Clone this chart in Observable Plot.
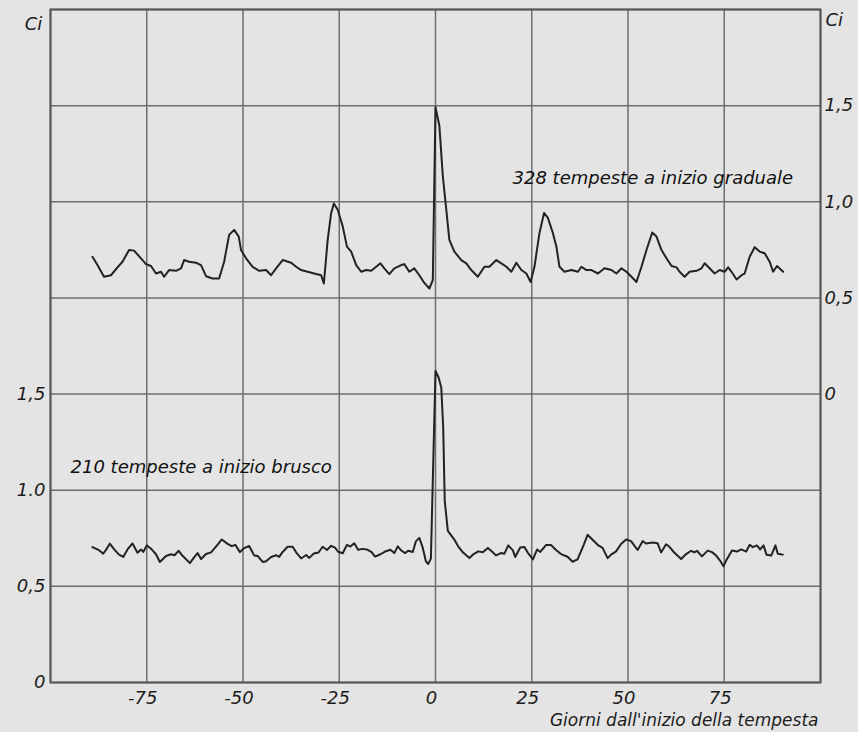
<!DOCTYPE html>
<html>
<head>
<meta charset="utf-8">
<script src="https://cdn.jsdelivr.net/npm/d3@7"></script>
<script src="https://cdn.jsdelivr.net/npm/@observablehq/plot@0.6"></script>
<style>
  html, body { margin: 0; padding: 0; background: #e4e4e4; }
  svg { display: block; }
</style>
</head>
<body>
<script>
// ---- Data ----
// Upper curve: 328 storms with gradual onset (right-hand axis, Ci)
const topDays = [-89.1,-87.8,-86.1,-84.3,-82.6,-81.3,-79.6,-78.3,-76.5,-75.2,-73.9,-72.6,-71.3,-70.5,-69.2,-67.4,-66.1,-65.3,-64.0,-62.2,-60.9,-59.6,-57.9,-56.2,-54.9,-53.6,-52.3,-51.1,-50.5,-49.2,-47.5,-45.8,-44.0,-42.7,-41.4,-39.7,-37.5,-36.2,-34.9,-33.2,-31.5,-29.7,-29.0,-28.0,-27.1,-26.4,-25.4,-24.1,-23.0,-21.9,-20.6,-19.3,-18.0,-16.7,-15.4,-14.3,-13.3,-12.0,-10.7,-8.9,-8.1,-6.8,-5.5,-4.2,-2.9,-1.6,-0.7,0,1.0,1.9,2.8,3.6,4.9,6.7,8.0,9.3,11.0,12.7,14.0,15.8,17.1,18.4,19.7,21.0,22.3,23.6,24.7,25.7,27.0,28.2,29.2,30.5,31.4,32.2,33.5,35.3,37.0,37.9,39.2,40.5,42.2,43.9,45.7,47.0,48.3,49.6,50.9,52.2,53.5,54.8,56.3,57.4,58.7,60.0,61.3,62.6,63.4,64.7,66.0,67.8,69.1,69.9,71.2,72.5,73.8,75.1,76.0,76.9,78.2,79.5,80.3,81.6,82.9,84.2,85.5,86.8,87.7,88.7,90.3];
const topValues = [0.714,0.671,0.610,0.618,0.659,0.688,0.749,0.746,0.706,0.676,0.666,0.627,0.636,0.610,0.645,0.641,0.654,0.697,0.688,0.683,0.671,0.613,0.601,0.601,0.688,0.828,0.854,0.819,0.749,0.706,0.662,0.641,0.645,0.618,0.654,0.697,0.683,0.662,0.645,0.636,0.627,0.618,0.575,0.802,0.942,0.991,0.959,0.872,0.767,0.741,0.671,0.636,0.645,0.641,0.662,0.680,0.654,0.624,0.654,0.671,0.676,0.636,0.654,0.618,0.578,0.549,0.592,1.492,1.396,1.134,0.959,0.802,0.741,0.697,0.680,0.645,0.610,0.662,0.662,0.697,0.680,0.662,0.636,0.683,0.645,0.627,0.583,0.662,0.837,0.942,0.916,0.837,0.767,0.662,0.636,0.645,0.636,0.662,0.645,0.645,0.627,0.654,0.645,0.627,0.654,0.636,0.610,0.583,0.662,0.749,0.840,0.819,0.749,0.706,0.666,0.659,0.636,0.610,0.636,0.641,0.654,0.680,0.654,0.627,0.645,0.636,0.659,0.636,0.596,0.618,0.627,0.714,0.764,0.741,0.732,0.688,0.636,0.666,0.636];

// Lower curve: 210 storms with sudden onset (left-hand axis, Ci)
const bottomDays = [-89.1,-87.4,-86.3,-85.4,-84.6,-83.4,-82.2,-81.1,-80.0,-78.7,-77.4,-76.5,-75.9,-75.0,-73.9,-72.6,-71.6,-70.0,-68.7,-67.8,-66.7,-65.7,-63.8,-62.7,-61.8,-60.9,-59.6,-58.3,-56.8,-55.5,-54.0,-52.9,-52.0,-50.8,-49.7,-48.4,-47.1,-46.2,-44.9,-44.0,-42.7,-41.4,-40.6,-39.7,-38.4,-37.1,-36.0,-34.9,-33.6,-32.8,-31.6,-30.4,-29.3,-28.2,-27.1,-26.1,-25.3,-24.1,-23.0,-22.1,-21.1,-20.1,-18.9,-17.6,-16.6,-15.7,-14.3,-13.1,-11.7,-10.7,-9.8,-8.8,-7.9,-7.1,-5.9,-5.1,-4.2,-3.3,-2.5,-1.9,-1.2,0,0.8,1.5,2.0,2.4,3.2,4.8,5.8,7.1,8.8,9.9,11.1,12.3,13.6,14.6,15.7,17.0,17.9,18.9,20.1,20.7,22.0,23.1,24.1,25.3,26.4,27.2,28.7,30.0,31.3,32.6,34.3,35.6,36.9,38.5,39.5,40.8,42.1,43.4,44.7,45.6,46.9,48.2,49.5,50.8,51.6,52.5,53.8,54.7,56.4,57.7,58.6,59.9,60.7,62.0,63.8,65.1,66.4,67.2,67.9,69.2,70.7,71.8,72.9,73.9,74.8,75.5,77.0,78.3,79.4,80.7,81.6,82.4,83.5,84.3,85.2,86.0,87.2,88.3,88.9,90.2];
const bottomValues = [0.704,0.688,0.670,0.695,0.722,0.691,0.665,0.653,0.692,0.723,0.675,0.692,0.679,0.713,0.696,0.667,0.627,0.658,0.667,0.662,0.685,0.659,0.621,0.651,0.673,0.642,0.668,0.677,0.712,0.744,0.721,0.709,0.716,0.678,0.699,0.710,0.661,0.658,0.627,0.631,0.653,0.662,0.653,0.679,0.706,0.706,0.671,0.645,0.663,0.648,0.671,0.676,0.706,0.689,0.711,0.701,0.680,0.672,0.716,0.707,0.724,0.690,0.695,0.690,0.678,0.655,0.667,0.681,0.690,0.673,0.708,0.685,0.673,0.685,0.679,0.734,0.752,0.700,0.631,0.616,0.644,1.620,1.586,1.534,1.326,0.945,0.789,0.746,0.711,0.677,0.647,0.668,0.682,0.677,0.700,0.683,0.661,0.673,0.670,0.713,0.687,0.653,0.702,0.705,0.671,0.640,0.692,0.679,0.715,0.715,0.689,0.668,0.654,0.628,0.640,0.716,0.768,0.742,0.716,0.700,0.647,0.665,0.682,0.720,0.744,0.735,0.713,0.689,0.735,0.723,0.728,0.724,0.676,0.719,0.707,0.676,0.642,0.668,0.685,0.677,0.685,0.656,0.686,0.678,0.660,0.634,0.605,0.634,0.686,0.681,0.692,0.681,0.716,0.704,0.713,0.692,0.713,0.664,0.660,0.713,0.669,0.665];

// Axes / ticks
const xGrid = [-100, -75, -50, -25, 0, 25, 50, 75, 100];
const xTicks = [-75, -50, -25, 0, 25, 50, 75];
const xTickLabels = ["-75", "-50", "-25", "0", "25", "50", "75"];
const yGrid = [0, 0.5, 1, 1.5, 2, 2.5, 3, 3.5];
const leftTicks = [0, 0.5, 1, 1.5];
const leftTickLabels = ["0", "0,5", "1.0", "1,5"];
const rightTicks = [0, 0.5, 1, 1.5];
const rightTickLabels = ["0", "0,5", "1,0", "1,5"];
const rightAxisZero = 1.5;   // right-hand "0" sits at left-hand 1,5

const axisUnit = "Ci";
const xTitle = "Giorni dall'inizio della tempesta";
const labels = [
  {text: "328 tempeste a inizio graduale", day: 20, ci: 2.62},
  {text: "210 tempeste a inizio brusco", day: -94.8, ci: 1.12}
];

// ---- Build tables ----
const topData = topDays.map((d, i) => ({day: d, ci: topValues[i]}));
const bottomData = bottomDays.map((d, i) => ({day: d, ci: bottomValues[i]}));

const ink = "#1c1c1c";
const lineInk = "#222";
const gridColor = "#6e6e6e";
const font = "'DejaVu Sans', sans-serif";

const chart = Plot.plot({
  width: 858,
  height: 732,
  marginLeft: 50,
  marginRight: 38,
  marginTop: 9,
  marginBottom: 50,
  x: {domain: [-100, 100], label: null},
  y: {domain: [0, 3.5], label: null},
  style: {background: "#e4e4e4", fontFamily: font, fontStyle: "italic", color: ink},
  marks: [
    Plot.ruleX(xGrid, {stroke: gridColor, strokeWidth: 1.5}),
    Plot.ruleY(yGrid, {stroke: gridColor, strokeWidth: 1.5}),
    Plot.frame({stroke: "#555", strokeWidth: 2}),
    Plot.line(topData, {x: "day", y: d => d.ci + rightAxisZero, stroke: lineInk, strokeWidth: 2, strokeLinejoin: "round"}),
    Plot.line(bottomData, {x: "day", y: "ci", stroke: lineInk, strokeWidth: 2, strokeLinejoin: "round"}),
    Plot.axisX(xTicks, {
      anchor: "bottom", label: null, tickSize: 0, tickPadding: 9, fontSize: 18, dx: -4,
      tickFormat: d => xTickLabels[xTicks.indexOf(d)], fill: ink
    }),
    Plot.axisY(leftTicks, {
      anchor: "left", label: null, tickSize: 0, tickPadding: 5, fontSize: 18,
      tickFormat: d => leftTickLabels[leftTicks.indexOf(d)], fill: ink
    }),
    Plot.axisY(rightTicks.map(v => v + rightAxisZero), {
      anchor: "right", label: null, tickSize: 0, tickPadding: 4, fontSize: 18,
      tickFormat: d => rightTickLabels[rightTicks.indexOf(Math.round((d - rightAxisZero) * 2) / 2)], fill: ink
    }),
    Plot.text([axisUnit], {text: d => d, frameAnchor: "top-left", lineAnchor: "middle", textAnchor: "middle", dx: -17, dy: 15, fontSize: 18, fill: ink}),
    Plot.text([axisUnit], {text: d => d, frameAnchor: "top-right", lineAnchor: "middle", textAnchor: "start", dx: 5, dy: 11, fontSize: 18, fill: ink}),
    Plot.text(labels, {x: "day", y: "ci", text: "text", textAnchor: "start", fontSize: 18, fill: "#111"}),
    Plot.text([xTitle], {text: d => d, frameAnchor: "bottom-right", lineAnchor: "middle", textAnchor: "end", dx: -2, dy: 38, fontSize: 17, fill: ink})
  ]
});

document.body.appendChild(chart);
</script>
</body>
</html>
